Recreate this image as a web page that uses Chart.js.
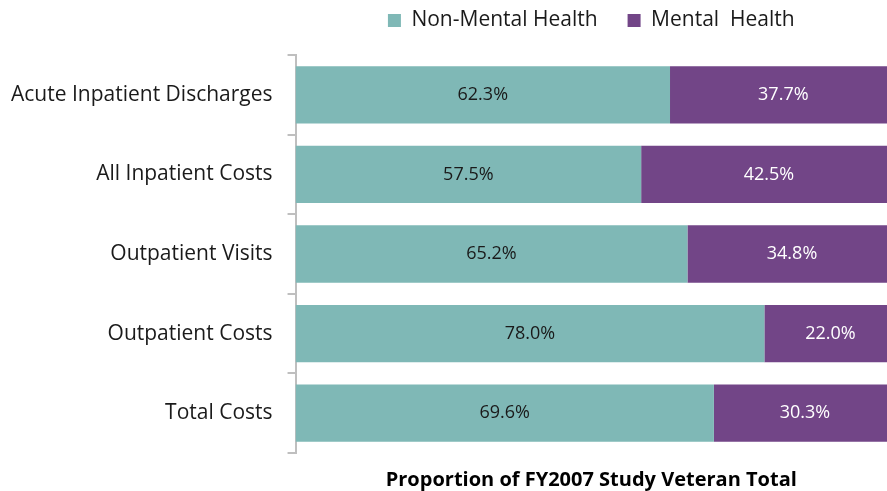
<!DOCTYPE html>
<html>
<head>
<meta charset="utf-8">
<script src="https://cdn.jsdelivr.net/npm/chart.js@4/dist/chart.umd.min.js"></script>
<style>
  html, body { margin: 0; padding: 0; background: #fff; }
  #wrap { width: 887px; height: 491px; }
</style>
</head>
<body>
<div id="wrap"><canvas id="chart"></canvas></div>
<script>
// categories and shares (%)
const categories = ['Acute Inpatient Discharges', 'All Inpatient Costs', 'Outpatient Visits', 'Outpatient Costs', 'Total Costs'];
const nonMental = [62.3, 57.5, 65.2, 78.0, 69.6];
const mental = [37.7, 42.5, 34.8, 22.0, 30.3];

const fontName = "'Open Sans', 'Liberation Sans', sans-serif";

// write the value in the middle of each bar segment
const barLabels = {
    id: 'barLabels',
    afterDatasetsDraw(chart) {
        const ctx = chart.ctx;
        ctx.save();
        ctx.font = '18px ' + fontName;
        ctx.textAlign = 'center';
        ctx.textBaseline = 'middle';
        chart.data.datasets.forEach((ds, i) => {
            ctx.fillStyle = i === 0 ? '#1a1a1a' : '#ffffff';
            chart.getDatasetMeta(i).data.forEach((bar, j) => {
                const p = bar.getProps(['x', 'y', 'base'], true);
                ctx.fillText(ds.data[j].toFixed(1) + '%', (p.x + p.base) / 2, p.y);
            });
        });
        ctx.restore();
    }
};

// legend sits over the plot area, a bit higher than default
const moveLegend = {
    id: 'moveLegend',
    afterLayout(chart) {
        const lg = chart.legend;
        lg.left = chart.chartArea.left;
        lg.right = chart.chartArea.right;
        lg.top -= 14;
        lg.bottom -= 14;
    }
};

new Chart(document.getElementById('chart'), {
    type: 'bar',
    data: {
        labels: categories,
        datasets: [{
            label: 'Non-Mental Health',
            data: nonMental,
            backgroundColor: '#7fb8b6'
        }, {
            label: 'Mental  Health',
            data: mental,
            backgroundColor: '#724587'
        }]
    },
    options: {
        indexAxis: 'y',
        responsive: true,
        maintainAspectRatio: false,
        animation: false,
        datasets: {
            bar: { categoryPercentage: 0.72, barPercentage: 1 }
        },
        layout: { padding: { top: -6, right: 0, left: -4, bottom: 0 } },
        plugins: {
            legend: {
                position: 'top',
                labels: {
                    font: { family: fontName, size: 21 },
                    color: '#1a1a1a',
                    boxWidth: 13,
                    boxHeight: 13,
                    padding: 30
                }
            },
            tooltip: { enabled: false }
        },
        scales: {
            x: {
                stacked: true,
                min: 0,
                max: 98.4, // the original plot runs a little past the right edge
                ticks: { display: false },
                grid: { display: false },
                border: { display: false },
                title: {
                    display: true,
                    text: 'Proportion of FY2007 Study Veteran Total',
                    font: { family: fontName, size: 20, weight: 'bold' },
                    color: '#000',
                    padding: { top: 7, bottom: -1 }
                }
            },
            y: {
                stacked: true,
                grid: {
                    offset: true,
                    drawOnChartArea: false,
                    tickLength: 8,
                    color: '#bfbfbf',
                    lineWidth: 2
                },
                border: { color: '#bfbfbf', width: 2 },
                ticks: {
                    font: { family: fontName, size: 21 },
                    color: '#1a1a1a',
                    padding: 15
                }
            }
        }
    },
    plugins: [barLabels, moveLegend]
});
</script>
</body>
</html>
